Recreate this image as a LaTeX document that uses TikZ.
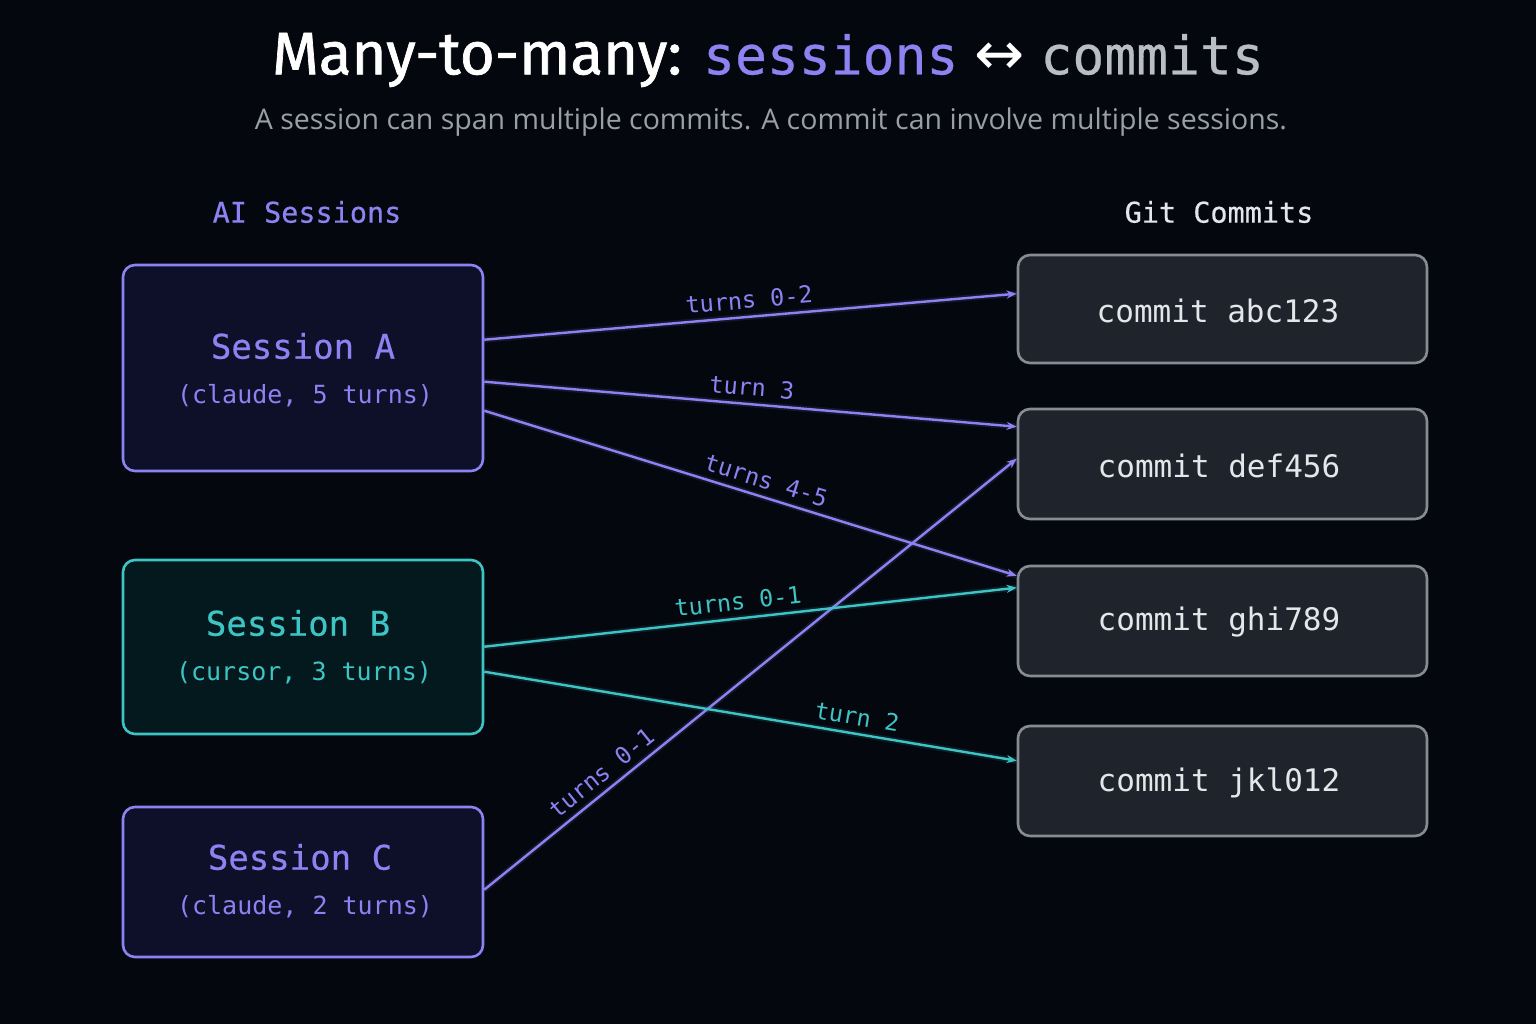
\documentclass[tikz,border=0pt]{standalone}
\usepackage{fontspec}
\usetikzlibrary{arrows.meta,calc}
\newfontfamily\monof{DejaVu Sans Mono}
\newfontfamily\monomed{DejaVu Sans Mono}[FakeBold=0.5]
\newfontfamily\titlef{Fira Sans}[FakeBold=1.2]
\newfontfamily\symf{DejaVu Sans}
\newfontfamily\subf{Open Sans}
\definecolor{bgc}{HTML}{05070F}
\definecolor{purp}{HTML}{8C82F2}
\definecolor{teal}{HTML}{3EC4C4}
\definecolor{purpfill}{HTML}{0D1028}
\definecolor{tealfill}{HTML}{04191D}
\definecolor{cfill}{HTML}{1F242C}
\definecolor{cstroke}{HTML}{878C94}
\definecolor{ctext}{HTML}{E4E6E9}
\definecolor{subgray}{HTML}{9A9EA6}
\definecolor{titlegray}{HTML}{B9BDC4}
\tikzset{
  sessbox/.style={draw=#1, line width=2.6pt, rounded corners=12pt, minimum width=360pt, inner sep=0pt},
  commitbox/.style={draw=cstroke, fill=cfill, line width=2.6pt, rounded corners=12pt, minimum width=409pt, inner sep=0pt},
  link/.style={draw=#1, line width=2.4pt, -{Stealth[length=10pt,width=8pt]},
     preaction={draw=#1, line width=6pt, opacity=0.12, -}},
  lbl/.style={font=\monof\fontsize{23.5}{26}\selectfont, text=#1, sloped, above=7pt, inner sep=0pt},
  sname/.style={font=\monomed\fontsize{34}{38}\selectfont, text=#1},
  sdesc/.style={font=\monof\fontsize{25}{30}\selectfont, text=#1},
  ctxt/.style={font=\monof\fontsize{31}{36}\selectfont, text=ctext},
  head/.style={font=\monomed\fontsize{28.5}{34}\selectfont}
}
\begin{document}
\begin{tikzpicture}[x=1pt,y=-1pt]
\useasboundingbox (0,0) rectangle (1536,1024);
\fill[bgc] (0,0) rectangle (1536,1024);

% title
\node (title) at (768,60) {\fontsize{60}{64}\selectfont\titlef\color{white}Many-to-many: {\fontsize{53}{60}\selectfont\monomed\color{purp}sessions} {\symf\color{white}↔} {\fontsize{53}{60}\selectfont\monomed\color{titlegray}commits}};
\node[font=\subf\fontsize{28.5}{32}\selectfont, text=subgray] (subtitle) at (771,122) {A session can span multiple commits. A commit can involve multiple sessions.};

\node[head, text=purp] (hA) at (307,212) {AI Sessions};
\node[head, text=ctext] (hG) at (1219,212) {Git Commits};

% session boxes
\node[sessbox=purp, fill=purpfill, minimum height=206pt] (sA) at (303,368) {};
\node[sessbox=teal, fill=tealfill, minimum height=174pt] (sB) at (303,647) {};
\node[sessbox=purp, fill=purpfill, minimum height=150pt] (sC) at (303,882) {};

\node[sname=purp] (tA1) at (303,346) {Session A};
\node[sdesc=purp] (tA2) at (305,396) {(claude, 5 turns)};
\node[sname=teal] (tB1) at (298,623) {Session B};
\node[sdesc=teal] (tB2) at (304,673) {(cursor, 3 turns)};
\node[sname=purp] (tC1) at (300,857) {Session C};
\node[sdesc=purp] (tC2) at (305,907) {(claude, 2 turns)};

% commit boxes
\node[commitbox, minimum height=108pt] (c1) at (1222.5,309) {};
\node[commitbox, minimum height=110pt] (c2) at (1222.5,464) {};
\node[commitbox, minimum height=110pt] (c3) at (1222.5,621) {};
\node[commitbox, minimum height=110pt] (c4) at (1222.5,781) {};

\node[ctxt] (t1) at (1218,311) {commit abc123};
\node[ctxt] (t2) at (1219,466) {commit def456};
\node[ctxt] (t3) at (1219,622) {commit ghi789};
\node[ctxt] (t4) at (1219,783) {commit jkl012};

% anchor points
\coordinate (a1) at ($(sA.north east)+(0,76)$);
\coordinate (a2) at ($(sA.north east)+(0,118)$);
\coordinate (a3) at ($(sA.north east)+(0,147)$);
\coordinate (b1) at ($(sB.north east)+(0,88)$);
\coordinate (b2) at ($(sB.north east)+(0,113)$);
\coordinate (cc1) at ($(sC.north east)+(0,84)$);
\coordinate (e1) at ($(c1.north west)+(0,40)$);
\coordinate (e2) at ($(c2.north west)+(0,19)$);
\coordinate (e3) at ($(c3.north west)+(0,11)$);
\coordinate (e3b) at ($(c3.north west)+(0,23)$);
\coordinate (e4) at ($(c4.north west)+(0,36)$);
\coordinate (e2c) at ($(c2.north west)+(0,51)$);

% connectors
\draw[link=purp] (cc1) -- node[lbl=purp, pos=0.24] (l6) {turns 0-1} (e2c);
\draw[link=purp] (a1) -- node[lbl=purp, pos=0.5] (l1) {turns 0-2} (e1);
\draw[link=purp] (a2) -- node[lbl=purp, pos=0.5] (l2) {turn 3} (e2);
\draw[link=purp] (a3) -- node[lbl=purp, pos=0.52] (l3) {turns 4-5} (e3);
\draw[link=teal] (b1) -- node[lbl=teal, pos=0.48] (l4) {turns 0-1} (e3b);
\draw[link=teal] (b2) -- node[lbl=teal, pos=0.695] (l5) {turn 2} (e4);
\end{tikzpicture}
\end{document}
